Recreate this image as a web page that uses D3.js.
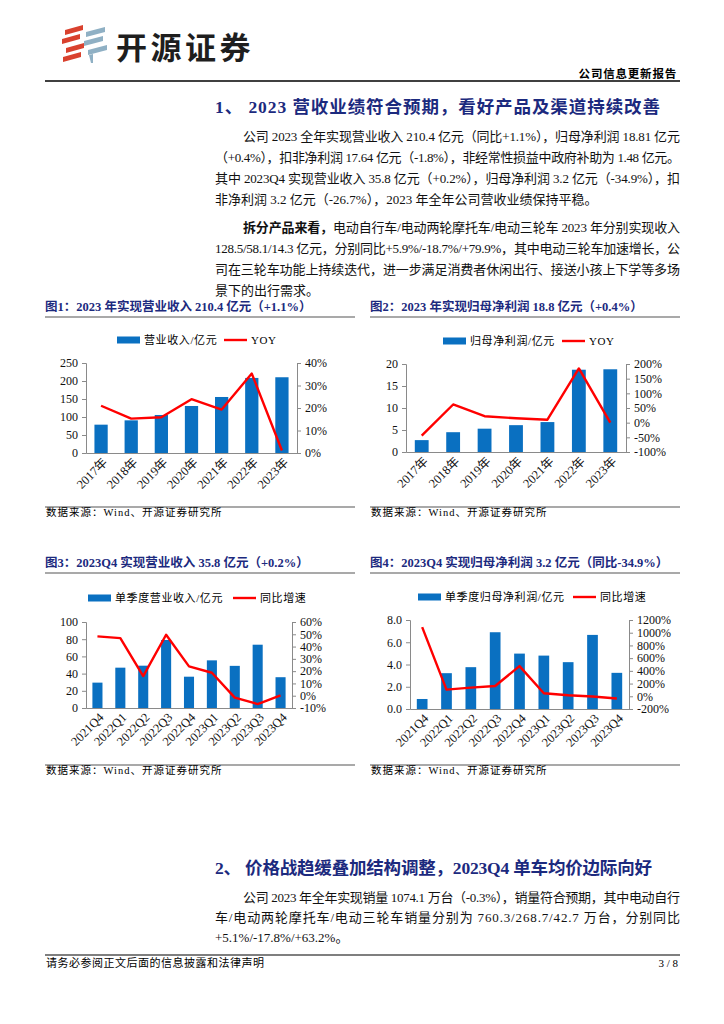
<!DOCTYPE html>
<html>
<head>
<meta charset="utf-8">
<script src="https://cdn.jsdelivr.net/npm/d3@7"></script>
<style>
  body { margin: 0; background: #fff; }
  svg { display: block; font-family: "Liberation Serif", "Noto Sans CJK SC", serif; }
</style>
</head>
<body>
<div id="page"></div>
<script>
'use strict'
// chart data
const years = ['2017年', '2018年', '2019年', '2020年', '2021年', '2022年', '2023年'];
const revenue = [78.7, 90.7, 105.6, 130.6, 155.6, 208.5, 210.4];
const revenueYoy = [21.0, 15.3, 15.9, 23.9, 19.3, 35.3, 1.1];
const profit = [2.7, 4.5, 5.3, 6.1, 6.8, 18.7, 18.8];
const profitYoy = [-44, 62, 22, 15, 10, 185, 0.4];

const quarters = ['2021Q4', '2022Q1', '2022Q2', '2022Q3', '2022Q4', '2023Q1', '2023Q2', '2023Q3', '2023Q4'];
const qRevenue = [29.5, 46.9, 49.2, 79.1, 36.4, 55.4, 49.0, 73.6, 35.8];
const qRevenueYoy = [48.3, 46.9, 16.0, 49.6, 23.9, 18.7, -1.6, -6.8, 0.2];
const qProfit = [0.9, 3.22, 3.76, 6.9, 4.98, 4.8, 4.21, 6.66, 3.25];
const qProfitYoy = [1087, 104, 136, 162, 475, 47, 16, -3, -34.9];

const leftTicks1 = [0, 50, 100, 150, 200, 250];
const rightTicks1 = [0, 10, 20, 30, 40];
const leftTicks2 = [0, 5, 10, 15, 20];
const rightTicks2 = [-100, -50, 0, 50, 100, 150, 200];
const leftTicks3 = [0, 20, 40, 60, 80, 100];
const rightTicks3 = [-10, 0, 10, 20, 30, 40, 50, 60];
const leftTicks4 = [0, 2, 4, 6, 8];
const rightTicks4 = [-200, 0, 200, 400, 600, 800, 1000, 1200];

const navy = '#1c2a7e';
const barBlue = '#0a70c1';
const red = '#ff0000';

const svg = d3.select('#page').append('svg')
    .attr('width', 724)
    .attr('height', 1024);

//#region header
const logo = svg.append('g').attr('class', 'logo');
const redStrips = [[65, 31], [62, 40], [66, 49], [63, 58]];
redStrips.forEach(([x, y]) => {
    logo.append('polygon')
        .attr('points', `${x},${y + 4} ${x + 18},${y - 1} ${x + 18},${y - 6} ${x},${y - 1}`)
        .attr('fill', '#d9412e');
});
const grayStrips = [[86, 33], [84, 42], [88, 51]];
grayStrips.forEach(([x, y]) => {
    logo.append('polygon')
        .attr('points', `${x},${y + 4} ${x + 19},${y - 1} ${x + 19},${y - 6} ${x},${y - 1}`)
        .attr('fill', '#8fb0c4');
});
logo.append('polygon')
    .attr('points', '89,55 93,54 93,63 91,63')
    .attr('fill', '#8fb0c4');

svg.append('text')
    .attr('x', 116).attr('y', 59)
    .attr('font-family', '"Noto Sans CJK SC", sans-serif')
    .attr('font-weight', 'bold')
    .attr('font-size', 31)
    .attr('letter-spacing', 3.5)
    .attr('fill', '#1e1e1e')
    .text('开源证券');

svg.append('text')
    .attr('x', 677).attr('y', 78)
    .attr('text-anchor', 'end')
    .attr('font-size', 11.5)
    .attr('font-weight', 'bold')
    .attr('letter-spacing', 0.8)
    .text('公司信息更新报告');

svg.append('line')
    .attr('x1', 45).attr('x2', 680).attr('y1', 81).attr('y2', 81)
    .attr('stroke', '#000').attr('stroke-width', 1.5);
//#endregion header

//#region body text
function heading(y, txt, len) {
    svg.append('text')
        .attr('x', 215).attr('y', y)
        .attr('font-size', 17.5)
        .attr('font-weight', 'bold')
        .attr('fill', navy)
        .attr('textLength', len)
        .attr('lengthAdjust', 'spacing')
        .text(txt);
}

function bodyLine(y, parts, indent, justify) {
    const x = indent ? 243 : 215;
    const t = svg.append('text')
        .attr('x', x).attr('y', y)
        .attr('font-size', 13)
        .attr('fill', '#111');
    if (justify) {
        t.attr('textLength', 680 - x).attr('lengthAdjust', 'spacing');
    }
    parts.forEach(p => {
        t.append('tspan')
            .attr('font-weight', p.bold ? 'bold' : null)
            .text(p.t);
    });
}

heading(113, '1、 2023 营收业绩符合预期，看好产品及渠道持续改善', 445);

bodyLine(141, [{ t: '公司 2023 全年实现营业收入 210.4 亿元（同比+1.1%），归母净利润 18.81 亿元' }], true, true);
bodyLine(162, [{ t: '（+0.4%），扣非净利润 17.64 亿元（-1.8%），非经常性损益中政府补助为 1.48 亿元。' }], false, true);
bodyLine(183, [{ t: '其中 2023Q4 实现营业收入 35.8 亿元（+0.2%），归母净利润 3.2 亿元（-34.9%），扣' }], false, true);
bodyLine(204, [{ t: '非净利润 3.2 亿元（-26.7%），2023 年全年公司营收业绩保持平稳。' }], false, false);

bodyLine(232, [{ t: '拆分产品来看，', bold: true }, { t: '电动自行车/电动两轮摩托车/电动三轮车 2023 年分别实现收入' }], true, true);
bodyLine(253, [{ t: '128.5/58.1/14.3 亿元，分别同比+5.9%/-18.7%/+79.9%，其中电动三轮车加速增长，公' }], false, true);
bodyLine(274, [{ t: '司在三轮车功能上持续迭代，进一步满足消费者休闲出行、接送小孩上下学等多场' }], false, true);
bodyLine(295, [{ t: '景下的出行需求。' }], false, false);

heading(874, '2、 价格战趋缓叠加结构调整，2023Q4 单车均价边际向好', 437);

bodyLine(902, [{ t: '公司 2023 年全年实现销量 1074.1 万台（-0.3%），销量符合预期，其中电动自行' }], true, true);
bodyLine(922, [{ t: '车/电动两轮摩托车/电动三轮车销量分别为 760.3/268.7/42.7 万台，分别同比' }], false, true);
bodyLine(942, [{ t: '+5.1%/-17.8%/+63.2%。' }], false, false);
//#endregion body text

//#region charts
function drawChart(cfg) {
    const g = svg.append('g').attr('class', 'chart');

    // figure title and rules
    g.append('text')
        .attr('x', cfg.left).attr('y', cfg.titleY)
        .attr('font-size', 12.5)
        .attr('font-weight', 'bold')
        .attr('fill', navy)
        .text(cfg.title);
    g.append('line')
        .attr('x1', cfg.left).attr('x2', cfg.right)
        .attr('y1', cfg.titleY + 6).attr('y2', cfg.titleY + 6)
        .attr('stroke', '#8c8c8c').attr('stroke-width', 1.5);
    g.append('line')
        .attr('x1', cfg.left).attr('x2', cfg.right)
        .attr('y1', cfg.sourceY - 9).attr('y2', cfg.sourceY - 9)
        .attr('stroke', '#8c8c8c').attr('stroke-width', 1.5);
    g.append('text')
        .attr('x', cfg.left + 1).attr('y', cfg.sourceY)
        .attr('font-size', 10.5)
        .attr('letter-spacing', 1)
        .text('数据来源：Wind、开源证券研究所');

    // scales
    const x = d3.scaleBand()
        .domain(cfg.cats)
        .range([cfg.x0, cfg.x1])
        .paddingInner(0.56)
        .paddingOuter(0.28);
    const yL = d3.scaleLinear()
        .domain(d3.extent(cfg.leftTicks))
        .range([cfg.y1, cfg.y0]);
    const yR = d3.scaleLinear()
        .domain(d3.extent(cfg.rightTicks))
        .range([cfg.y1, cfg.y0]);

    // bars
    g.append('g').selectAll('rect')
        .data(cfg.bars)
        .join('rect')
        .attr('x', (d, i) => x(cfg.cats[i]))
        .attr('y', d => yL(d))
        .attr('width', x.bandwidth())
        .attr('height', d => yL(0) - yL(d))
        .attr('fill', barBlue);

    // axes
    const axL = g.append('g')
        .attr('transform', `translate(${cfg.x0},0)`)
        .call(d3.axisLeft(yL).tickValues(cfg.leftTicks).tickFormat(cfg.leftFmt).tickSizeOuter(0).tickSize(4).tickPadding(4));
    const axR = g.append('g')
        .attr('transform', `translate(${cfg.x1},0)`)
        .call(d3.axisRight(yR).tickValues(cfg.rightTicks).tickFormat(d => d + '%').tickSizeOuter(0).tickSize(4).tickPadding(4));
    [axL, axR].forEach(ax => {
        ax.selectAll('path, line').attr('stroke', '#8a8a8a');
        ax.selectAll('text')
            .attr('font-size', 12)
            .attr('font-family', '"Liberation Serif", serif')
            .attr('fill', '#111');
    });

    const axB = g.append('g')
        .attr('transform', `translate(0,${cfg.y1})`)
        .call(d3.axisBottom(x).tickSize(0).tickFormat(''));
    axB.select('.domain').attr('stroke', '#8a8a8a');
    g.append('g').selectAll('text')
        .data(cfg.cats)
        .join('text')
        .attr('transform', d => `translate(${x(d) + x.bandwidth() / 2 + 4},${cfg.y1 + 7}) rotate(-45)`)
        .attr('text-anchor', 'end')
        .attr('dy', '0.35em')
        .attr('font-size', 12.5)
        .attr('fill', '#111')
        .text(d => d);

    // line
    const line = d3.line()
        .x((d, i) => x(cfg.cats[i]) + x.bandwidth() / 2)
        .y(d => yR(d));
    g.append('path')
        .datum(cfg.line)
        .attr('d', line)
        .attr('fill', 'none')
        .attr('stroke', red)
        .attr('stroke-width', 2.4)
        .attr('stroke-linejoin', 'round');

    // legend
    const lg = g.append('g').attr('transform', `translate(0,${cfg.legendY})`);
    lg.append('rect')
        .attr('x', cfg.legendX).attr('y', -3.5)
        .attr('width', 23).attr('height', 7)
        .attr('fill', barBlue);
    lg.append('text')
        .attr('x', cfg.legendX + 27).attr('y', 0)
        .attr('dy', '0.35em')
        .attr('font-size', 11)
        .attr('letter-spacing', 0.6)
        .text(cfg.barName);
    lg.append('line')
        .attr('x1', cfg.legendX2).attr('x2', cfg.legendX2 + 23)
        .attr('stroke', red).attr('stroke-width', 2.4);
    lg.append('text')
        .attr('x', cfg.legendX2 + 27).attr('y', 0)
        .attr('dy', '0.35em')
        .attr('font-size', 11)
        .attr('letter-spacing', 0.6)
        .text(cfg.lineName);
}

drawChart({
    title: '图1：2023 年实现营业收入 210.4 亿元（+1.1%）',
    left: 45, right: 355, titleY: 311, sourceY: 516,
    x0: 86, x1: 297, y0: 363, y1: 453,
    cats: years, bars: revenue, line: revenueYoy,
    leftTicks: leftTicks1, rightTicks: rightTicks1, leftFmt: d => d,
    legendY: 340, legendX: 117, legendX2: 224,
    barName: '营业收入/亿元', lineName: 'YOY'
});

drawChart({
    title: '图2：2023 年实现归母净利润 18.8 亿元（+0.4%）',
    left: 370, right: 680, titleY: 311, sourceY: 516,
    x0: 406, x1: 626, y0: 364, y1: 452,
    cats: years, bars: profit, line: profitYoy,
    leftTicks: leftTicks2, rightTicks: rightTicks2, leftFmt: d => d,
    legendY: 341, legendX: 443, legendX2: 562,
    barName: '归母净利润/亿元', lineName: 'YOY'
});

drawChart({
    title: '图3：2023Q4 实现营业收入 35.8 亿元（+0.2%）',
    left: 45, right: 355, titleY: 567, sourceY: 774,
    x0: 86, x1: 292, y0: 622, y1: 708,
    cats: quarters, bars: qRevenue, line: qRevenueYoy,
    leftTicks: leftTicks3, rightTicks: rightTicks3, leftFmt: d => d,
    legendY: 598, legendX: 88, legendX2: 233,
    barName: '单季度营业收入/亿元', lineName: '同比增速'
});

drawChart({
    title: '图4：2023Q4 实现归母净利润 3.2 亿元（同比-34.9%）',
    left: 370, right: 680, titleY: 567, sourceY: 774,
    x0: 410, x1: 629, y0: 620, y1: 709,
    cats: quarters, bars: qProfit, line: qProfitYoy,
    leftTicks: leftTicks4, rightTicks: rightTicks4, leftFmt: d3.format('.1f'),
    legendY: 597, legendX: 418, legendX2: 573,
    barName: '单季度归母净利润/亿元', lineName: '同比增速'
});
//#endregion charts

//#region footer
svg.append('line')
    .attr('x1', 45).attr('x2', 680).attr('y1', 955).attr('y2', 955)
    .attr('stroke', '#555').attr('stroke-width', 1.5);
svg.append('text')
    .attr('x', 46).attr('y', 967)
    .attr('font-size', 11)
    .attr('letter-spacing', 0.5)
    .text('请务必参阅正文后面的信息披露和法律声明');
svg.append('text')
    .attr('x', 678).attr('y', 967)
    .attr('text-anchor', 'end')
    .attr('font-size', 11)
    .text('3 / 8');
//#endregion footer
</script>
</body>
</html>
